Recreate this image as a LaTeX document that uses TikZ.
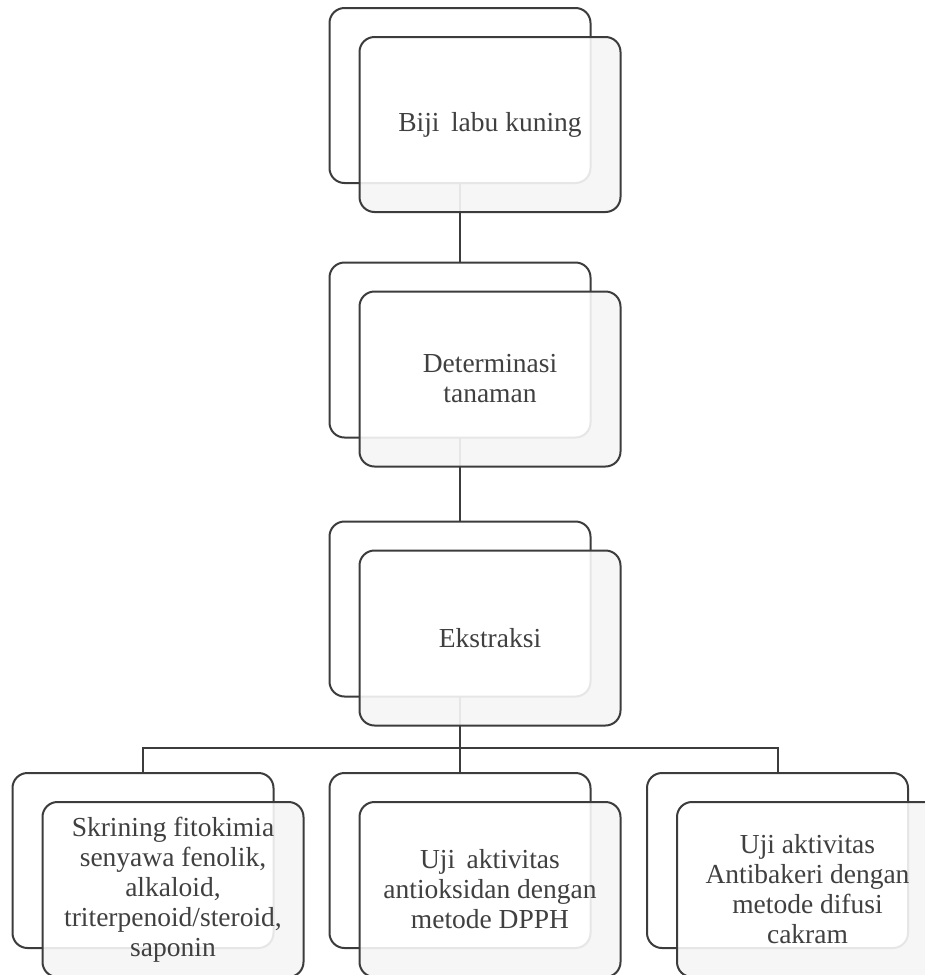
\documentclass[tikz,border=0pt]{standalone}
\usepackage{fontspec}
\setmainfont{Liberation Serif}
\usetikzlibrary{calc}
\definecolor{dark}{HTML}{3C3C3C}
\definecolor{txtc}{HTML}{404040}
\definecolor{frontgray}{HTML}{F6F6F6}
\definecolor{ghost}{HTML}{E6E6E6}
\tikzset{
  backbox/.style={draw=dark, fill=white, line width=2pt, rounded corners=15pt,
    minimum width=261pt, minimum height=175pt, inner sep=0pt, outer sep=0pt},
  frontbox/.style={fill=frontgray, rounded corners=15pt,
    minimum width=261pt, minimum height=175pt, inner sep=0pt, outer sep=0pt},
  conn/.style={draw=dark, line width=2pt},
  ghostline/.style={draw=ghost, line width=2pt},
  txt/.style={text=txtc, align=center, font=\fontsize{27.5}{30}\selectfont, inner sep=0pt}
}
\newcommand\boxpair[5]{%
  \node[backbox] (#1b) at (#2,#3) {};
  \node[frontbox] (#1f) at ($(#2,#3)+(30,29)$) {};
  \begin{scope}
    \clip[rounded corners=15pt] (#1f.north west) rectangle (#1f.south east);
    \draw[draw=ghost, fill=white, line width=2pt, rounded corners=15pt] (#1b.north west) rectangle (#1b.south east);
    #5
  \end{scope}
  \draw[draw=dark, line width=2pt, rounded corners=15pt] (#1f.north west) rectangle (#1f.south east);
  \node[txt] (#1) at (#1f) {#4};
}
\begin{document}
\begin{tikzpicture}[x=1pt,y=-1pt]
\useasboundingbox (0,0) rectangle (925,975);
\clip (0,0) rectangle (925,975);
\fill[white] (0,0) rectangle (925,975);
% connectors first (boxes are drawn above)
\coordinate (c1s) at (460,183);
\coordinate (c2n) at (460,263);
\coordinate (c2s) at (460,437.5);
\coordinate (c3n) at (460,521.5);
\coordinate (c3s) at (460,696.5);
\coordinate (bus) at (460,748);
\coordinate (c4n) at (143,773);
\coordinate (c5n) at (460,773);
\coordinate (c6n) at (777.5,773);
\draw[conn] (c1s) -- (c2n);
\draw[conn] (c2s) -- (c3n);
\draw[conn] (c3s) -- (c5n);
\draw[conn] (c4n) |- (bus) -| (c6n);
\boxpair{n1}{460}{95.5}{Biji\, labu kuning}{\draw[ghostline] (c1s) -- (460,240);}
\boxpair{n2}{460}{350}{Determinasi\\tanaman}{\draw[ghostline] (c2s) -- (460,500);}
\boxpair{n3}{460}{609}{Ekstraksi}{\draw[ghostline] (c3s) -- (460,760);}
\boxpair{n4}{143}{860.5}{Skrining fitokimia\\senyawa fenolik,\\alkaloid,\\triterpenoid/steroid,\\saponin}{}
\boxpair{n5}{460}{860.5}{Uji\, aktivitas\\antioksidan dengan\\metode DPPH}{}
\boxpair{n6}{777.5}{860.5}{Uji aktivitas\\Antibakeri dengan\\metode difusi\\cakram}{}
\end{tikzpicture}
\end{document}
